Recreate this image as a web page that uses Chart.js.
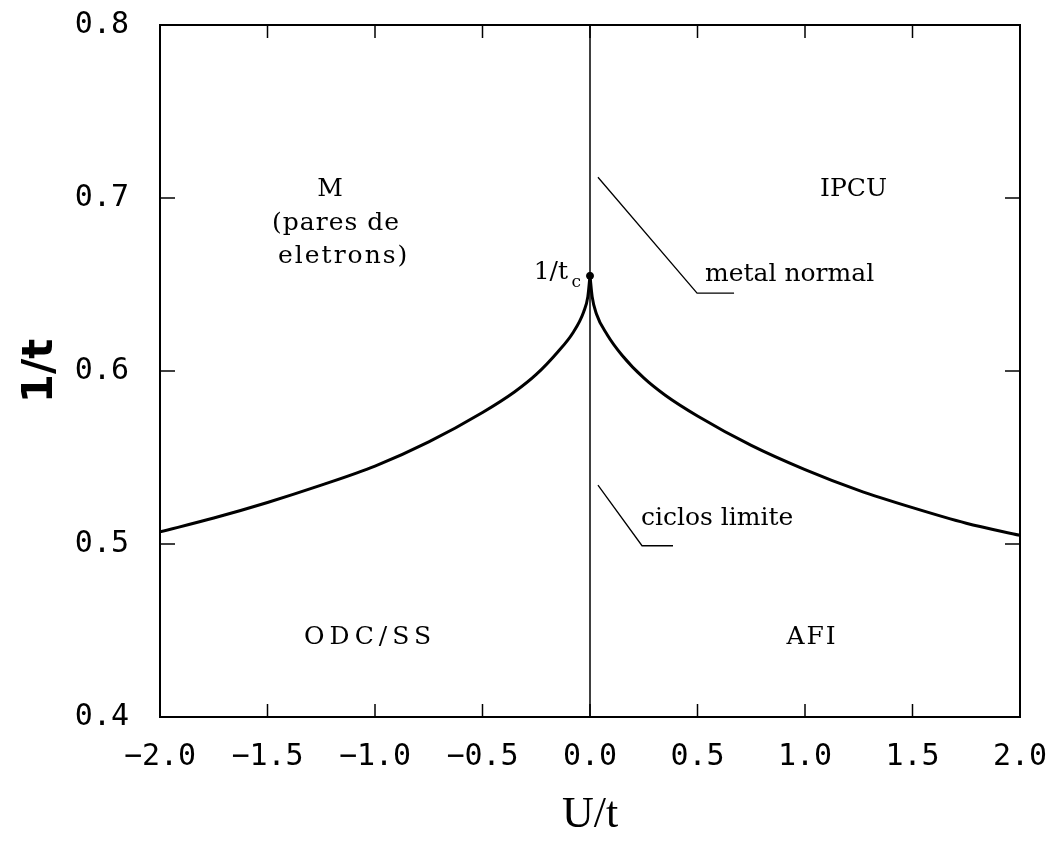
<!DOCTYPE html>
<html><head><meta charset="utf-8">
<script src="https://cdn.jsdelivr.net/npm/chart.js@4.4.1/dist/chart.umd.min.js"></script>
<style>html,body{margin:0;padding:0;background:#fff}#wrap{width:1055px;height:846px}</style>
</head><body><div id="wrap"><canvas id="c" width="1055" height="846"></canvas></div>
<script>
// Phase boundary 1/t_c(U/t) (left branch U<=0, right branch U>=0)
const uLeft  = [-2.0,-1.75,-1.5,-1.25,-1.0,-0.75,-0.5,-0.35,-0.25,-0.15,-0.08,-0.03,-0.01,0.0];
const vLeft  = [0.507,0.515,0.524,0.534,0.545,0.559,0.576,0.588,0.598,0.611,0.622,0.634,0.643,0.655];
const uRight = [0.0,0.01,0.03,0.08,0.15,0.25,0.35,0.5,0.75,1.0,1.25,1.5,1.75,2.0];
const vRight = [0.655,0.643,0.633,0.621,0.609,0.596,0.586,0.574,0.557,0.543,0.531,0.521,0.512,0.505];
// x = 0 line
const zeroLineU = [0, 0];
const zeroLineV = [0.4, 0.8];
// leader lines
const leaderMetalU = [0.037, 0.498, 0.67];
const leaderMetalV = [0.712, 0.645, 0.645];
const leaderCiclosU = [0.037, 0.242, 0.386];
const leaderCiclosV = [0.534, 0.499, 0.499];
// tick values
const xTicks = [-2.0,-1.5,-1.0,-0.5,0.0,0.5,1.0,1.5,2.0];
const yTicks = [0.4,0.5,0.6,0.7,0.8];
// labels: [text, U, 1/t, align, letterSpacing]
const labels = [
  ["M", -1.209, 0.705, "center", 0],
  ["(pares de", -1.479, 0.685, "left", 1],
  ["eletrons)", -1.451, 0.666, "left", 2],
  ["IPCU", 1.07, 0.705, "left", 0],
  ["metal normal", 0.535, 0.656, "left", 0],
  ["ciclos limite", 0.237, 0.515, "left", 0],
  ["ODC/SS", -1.023, 0.446, "center", 5],
  ["AFI", 1.033, 0.446, "center", 2]
];
const tcLabel = ["1/t", -0.102, 0.657];
const tcSub = ["c", -0.086, 0.651];

const zip = (a,b)=>a.map((v,i)=>({x:v,y:b[i]}));
const fmt = v => { const s = Math.abs(v).toFixed(1); return v < -1e-9 ? "\u2212" + s : s; };

const decor = {
  id:'decor',
  afterDraw(chart){
    const {ctx, chartArea:a, scales:{x,y}} = chart;
    ctx.save();
    ctx.strokeStyle = '#000';
    ctx.lineWidth = 2;
    ctx.strokeRect(a.left, a.top, a.right-a.left, a.bottom-a.top);
    ctx.lineWidth = 1.5;
    xTicks.slice(1,-1).forEach(v=>{
      const px = x.getPixelForValue(v);
      ctx.beginPath(); ctx.moveTo(px,a.bottom); ctx.lineTo(px,a.bottom-13); ctx.stroke();
      ctx.beginPath(); ctx.moveTo(px,a.top); ctx.lineTo(px,a.top+13); ctx.stroke();
    });
    yTicks.slice(1,-1).forEach(v=>{
      const py = y.getPixelForValue(v);
      ctx.beginPath(); ctx.moveTo(a.left,py); ctx.lineTo(a.left+15,py); ctx.stroke();
      ctx.beginPath(); ctx.moveTo(a.right,py); ctx.lineTo(a.right-15,py); ctx.stroke();
    });
    ctx.fillStyle = '#000';
    ctx.textBaseline = 'middle';
    ctx.font = '25px "DejaVu Serif"';
    labels.forEach(([t,u,v,al,ls])=>{
      ctx.textAlign = al;
      ctx.letterSpacing = ls + 'px';
      ctx.fillText(t, x.getPixelForValue(u), y.getPixelForValue(v));
    });
    ctx.letterSpacing = '0px';
    ctx.textAlign = 'right';
    ctx.fillText(tcLabel[0], x.getPixelForValue(tcLabel[1]), y.getPixelForValue(tcLabel[2]));
    ctx.textAlign = 'left';
    ctx.font = '17px "DejaVu Serif"';
    ctx.fillText(tcSub[0], x.getPixelForValue(tcSub[1]), y.getPixelForValue(tcSub[2]));
    ctx.restore();
  }
};

const curve = (d)=>({data:d, showLine:true, borderColor:'#000', borderWidth:3, pointRadius:0, cubicInterpolationMode:'monotone'});
const plain = (d,w)=>({data:d, showLine:true, borderColor:'#000', borderWidth:w, pointRadius:0, tension:0});

new Chart(document.getElementById('c'), {
  type:'scatter',
  data:{datasets:[
    curve(zip(uLeft,vLeft)),
    curve(zip(uRight,vRight)),
    plain(zip(zeroLineU,zeroLineV),1.5),
    plain(zip(leaderMetalU,leaderMetalV),1.3),
    plain(zip(leaderCiclosU,leaderCiclosV),1.3),
    {data:[{x:0,y:0.655}], pointRadius:3.5, pointBackgroundColor:'#000', pointBorderColor:'#000', showLine:false}
  ]},
  options:{
    responsive:false, animation:false,
    layout:{padding:{top:25, right:35, left:0, bottom:0}},
    plugins:{legend:{display:false}, tooltip:{enabled:false}},
    scales:{
      x:{type:'linear', min:-2, max:2,
        afterBuildTicks(s){ s.ticks = xTicks.map(v=>({value:v})); },
        afterFit(s){ s.height = 129; s.paddingLeft = 0; s.paddingRight = 0; },
        grid:{display:false}, border:{display:false},
        ticks:{color:'#000', padding:14, font:{family:'"DejaVu Sans Mono"', size:30}, callback:v=>fmt(v), maxRotation:0, autoSkip:false},
        title:{display:true, text:'U/t', color:'#000', font:{family:'"Liberation Serif"', size:44}, padding:{top:14,bottom:4}}
      },
      y:{type:'linear', min:0.4, max:0.8,
        afterBuildTicks(s){ s.ticks = yTicks.map(v=>({value:v})); },
        afterFit(s){ s.width = 160; s.paddingTop = 0; s.paddingBottom = 0; },
        grid:{display:false}, border:{display:false},
        ticks:{color:'#000', padding:23, font:{family:'"DejaVu Sans Mono"', size:30}, callback:v=>v.toFixed(1)},
        title:{display:true, text:'1/t', color:'#000', font:{family:'"DejaVu Sans"', size:42, weight:'bold'}, padding:{top:16,bottom:0}}
      }
    }
  },
  plugins:[decor]
});
</script></body></html>
